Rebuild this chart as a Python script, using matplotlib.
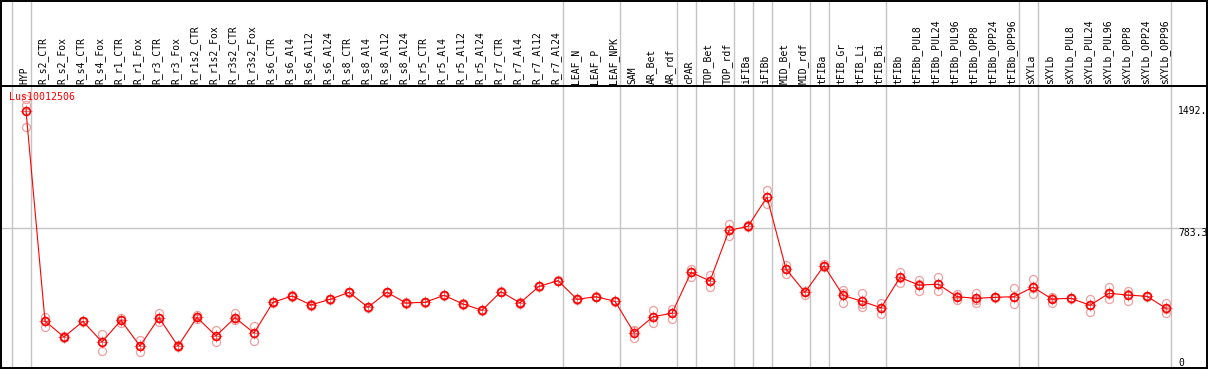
import numpy as np
import matplotlib
matplotlib.use("Agg")
import matplotlib.pyplot as plt

# sample names, in plot order
samples = ["HYP",
           "R_s2_CTR", "R_s2_Fox", "R_s4_CTR", "R_s4_Fox", "R_r1_CTR", "R_r1_Fox",
           "R_r3_CTR", "R_r3_Fox", "R_r1s2_CTR", "R_r1s2_Fox", "R_r3s2_CTR", "R_r3s2_Fox",
           "R_s6_CTR", "R_s6_Al4", "R_s6_Al12", "R_s6_Al24",
           "R_s8_CTR", "R_s8_Al4", "R_s8_Al12", "R_s8_Al24",
           "R_r5_CTR", "R_r5_Al4", "R_r5_Al12", "R_r5_Al24",
           "R_r7_CTR", "R_r7_Al4", "R_r7_Al12", "R_r7_Al24",
           "LEAF_N", "LEAF_P", "LEAF_NPK",
           "SAM", "AR_Bet", "AR_rdf", "cPAR", "TOP_Bet", "TOP_rdf",
           "iFIBa", "iFIBb", "MID_Bet", "MID_rdf",
           "tFIBa", "tFIB_Gr", "tFIB_Li", "tFIB_Bi",
           "tFIBb", "tFIBb_PUL8", "tFIBb_PUL24", "tFIBb_PUL96",
           "tFIBb_OPP8", "tFIBb_OPP24", "tFIBb_OPP96",
           "sXYLa", "sXYLb", "sXYLb_PUL8", "sXYLb_PUL24", "sXYLb_PUL96",
           "sXYLb_OPP8", "sXYLb_OPP24", "sXYLb_OPP96"]

# last sample index of each tissue group (separator drawn after it)
group_ends = [0, 28, 31, 34, 35, 37, 38, 39, 41, 42, 45, 52, 53, 60]

gene = "Lus10012506"

means = [1492,
         223, 127, 221, 97, 227, 72, 243, 72, 245, 133, 243, 151,
         336, 374, 320, 354, 396, 306, 396, 332,
         336, 378, 326, 288, 400, 332, 432, 467,
         354, 370, 342,
         153, 249, 270, 517, 465, 770,
         794, 971, 537, 396,
         557, 378, 342, 303,
         486, 440, 445, 370, 360, 366, 370,
         427, 356, 360, 318, 390, 380, 372, 300]

rep_hi = [1560,
          247, 133, 225, 143, 241, 109, 273, 76, 259, 169, 273, 193,
          340, 378, 324, 358, 400, 310, 400, 336,
          340, 382, 330, 292, 404, 336, 436, 471,
          358, 374, 346,
          170, 290, 298, 539, 499, 808,
          800, 1014, 559, 407,
          565, 410, 390, 334,
          521, 471, 489, 384, 394, 370, 420,
          475, 370, 364, 356, 427, 406, 376, 334]

rep_mid = [1525,
           223, 127, 221, 97, 227, 72, 243, 72, 245, 133, 243, 151,
           336, 374, 320, 354, 396, 306, 396, 332,
           336, 378, 326, 288, 400, 332, 432, 467,
           354, 370, 342,
           165, 249, 270, 517, 465, 770,
           794, 971, 537, 396,
           557, 390, 326, 303,
           485, 447, 445, 375, 352, 366, 366,
           422, 364, 360, 318, 387, 388, 372, 296]

rep_lo = [1392,
          187, 120, 217, 44, 209, 38, 215, 68, 235, 95, 229, 104,
          332, 370, 316, 350, 392, 302, 392, 328,
          332, 374, 322, 284, 396, 328, 428, 463,
          350, 366, 338,
          122, 213, 237, 491, 428, 736,
          788, 927, 507, 380,
          550, 334, 310, 265,
          454, 402, 402, 350, 334, 362, 324,
          384, 334, 356, 279, 356, 346, 368, 270]

ytick_vals = [0, 783.3, 1492]
ytick_text = ["0", "783.3", "1492."]

W, H = 1209, 370
fig = plt.figure(figsize=(W / 100, H / 100), dpi=100)

# pixel layout
left_px, right_px = 1, 1207
hdr_top, hdr_bot, plot_bot = 1, 86, 368
x0_px, dx_px = 26, 19             # pixel of first sample, spacing
y0_px, scale = 358, 247.3 / 1492  # pixel of value 0, px per unit

xlim = ((left_px - x0_px) / dx_px, (right_px - x0_px) / dx_px)
ylim = ((y0_px - plot_bot) / scale, (y0_px - hdr_bot) / scale)

ax = fig.add_axes([left_px / W, (H - plot_bot) / H,
                   (right_px - left_px) / W, (plot_bot - hdr_bot) / H])
axh = fig.add_axes([left_px / W, (H - hdr_bot) / H,
                    (right_px - left_px) / W, (hdr_bot - hdr_top) / H])

mono = "DejaVu Sans Mono"
grid_col = "#c4c4c4"
x = np.arange(len(samples))

for a in (ax, axh):
    a.set_xlim(*xlim)
    a.set_xticks([])
    a.set_yticks([])
    for s in a.spines.values():
        s.set_linewidth(1.4)
        s.set_color("black")
    a.axvline(-1 + 4.7 / dx_px, color=grid_col, lw=1.0, zorder=0)
    for g in group_ends:
        a.axvline(g + 4.7 / dx_px, color=grid_col, lw=1.0, zorder=0)

ax.set_ylim(*ylim)
axh.set_ylim(0, 1)
ax.axhline(783.3, color=grid_col, lw=1.0, zorder=0)

# sample labels in header
for i, name in enumerate(samples):
    axh.text(i - 0.1, 2.5 / 85, name, rotation=90, ha="center", va="bottom",
             fontsize=7, family=mono, color="black")

# replicates
for rep in (rep_hi, rep_mid, rep_lo):
    ax.plot(x, rep, ls="none", marker="o", ms=5.8, mfc="none",
            mec="#f0a0a0", mew=0.9, zorder=2)

# mean profile
ax.plot(x, means, color="#ff0000", lw=0.8, zorder=3)
ax.plot(x, means, ls="none", marker="o", ms=5.6, mfc="none",
        mec="#ff0000", mew=1.2, zorder=4)
ax.plot(x, means, ls="none", marker="+", ms=8, mec="#ff0000", mew=0.6,
        zorder=4, alpha=0.6)

# y labels on the right
tx = (1178 - x0_px) / dx_px
for v, t in zip(ytick_vals, ytick_text):
    va = "center" if v == max(ytick_vals) else "top"
    ax.text(tx, v, t, ha="left", va=va, fontsize=7, family=mono,
            color="black", zorder=5)

ax.text((9 - x0_px) / dx_px, (y0_px - 97) / scale, gene, ha="left",
        va="center", fontsize=7.2, family=mono, color="#ff0000", zorder=6)

fig.savefig("out.png", dpi=100)
